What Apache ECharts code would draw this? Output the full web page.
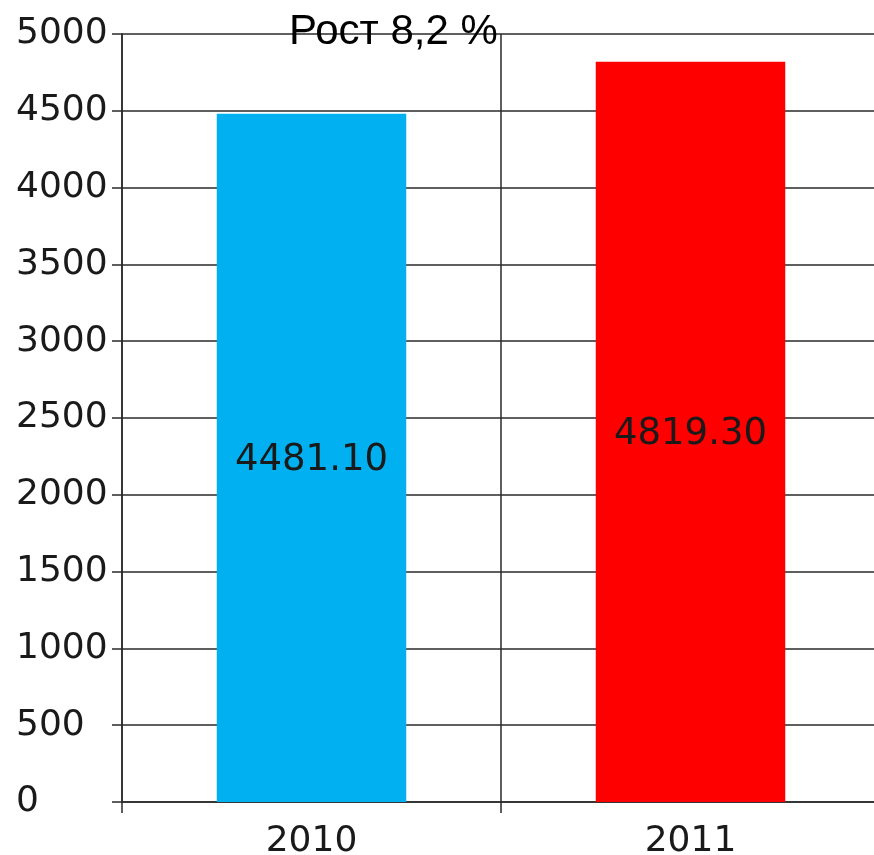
<!DOCTYPE html>
<html>
<head>
<meta charset="utf-8">
<script src="https://cdn.jsdelivr.net/npm/echarts@6/dist/echarts.min.js"></script>
<style>html,body{margin:0;padding:0;background:#fff}#c{width:874px;height:855px}</style>
</head>
<body>
<div id="c"></div>
<script>
const categories = ['2010', '2011'];
const values = [4481.10, 4819.30];
const barColors = ['#00B0F0', '#FF0000'];
const yTicks = { min: 0, max: 5000, interval: 500 };
const titleText = 'Рост 8,2 %';

const chart = echarts.init(document.getElementById('c'));
const lineColor = '#2a2a2a';
chart.setOption({
  animation: false,
  backgroundColor: '#ffffff',
  title: {
    text: titleText,
    left: 284, top: 6,
    textStyle: { fontFamily: 'Liberation Sans', fontSize: 42, fontWeight: 'normal', color: '#000' }
  },
  grid: { left: 122, right: -6, top: 34, bottom: 53, containLabel: false, outerBoundsMode: 'none' },
  xAxis: {
    type: 'category',
    data: categories,
    boundaryGap: true,
    axisLine: { show: true, lineStyle: { color: lineColor, width: 1.5 } },
    axisTick: { show: true, length: 11, lineStyle: { color: lineColor, width: 1.5 } },
    splitLine: { show: true, lineStyle: { color: lineColor, width: 1.5 } },
    axisLabel: { fontFamily: 'DejaVu Sans', fontSize: 36, color: '#1a1a1a', margin: 22 }
  },
  yAxis: {
    type: 'value',
    min: yTicks.min, max: yTicks.max, interval: yTicks.interval,
    axisLine: { show: true, lineStyle: { color: lineColor, width: 1.5 } },
    axisTick: { show: true, length: 10, lineStyle: { color: lineColor, width: 1.5 } },
    splitLine: { show: true, lineStyle: { color: lineColor, width: 1.5 } },
    axisLabel: { fontFamily: 'DejaVu Sans', fontSize: 36, color: '#1a1a1a', margin: 106, align: 'left',
      padding: [5, 0, 0, 0],
      formatter: v => String(v) }
  },
  series: [{
    type: 'bar',
    barWidth: '50%',
    data: values.map((v, i) => ({ value: v, itemStyle: { color: barColors[i] } })),
    label: {
      show: true, position: 'inside', offset: [0, 3],
      fontFamily: 'DejaVu Sans', fontSize: 37, color: '#1a1a1a',
      formatter: p => p.value.toFixed(2)
    }
  }]
});
</script>
</body>
</html>
